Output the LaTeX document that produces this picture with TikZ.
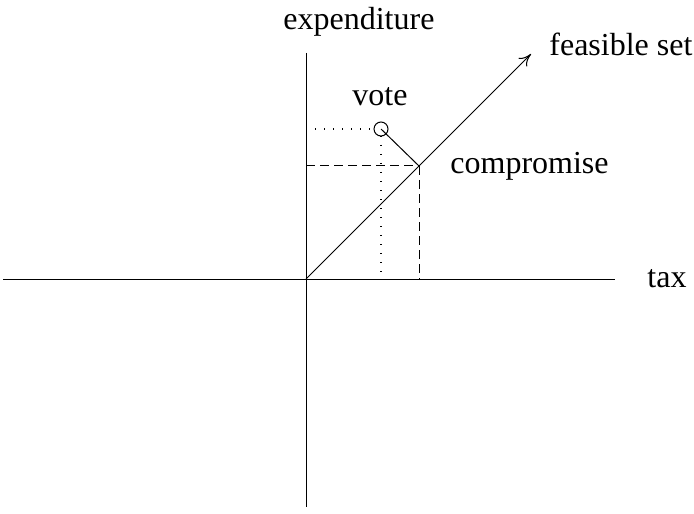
\documentclass[tikz,border=0pt]{standalone}
\usepackage{fontspec}
\setmainfont{Liberation Serif}
\usetikzlibrary{arrows.meta}
\begin{document}
\begin{tikzpicture}[x=0.5pt,y=-0.5pt,
  ln/.style={line width=0.5pt},
  dotl/.style={line width=0.6pt, dash pattern=on 0.6pt off 3.9pt},
  dashl/.style={line width=0.5pt, dash pattern=on 4.5pt off 2.5pt},
  lbl/.style={font=\fontsize{16}{19}\selectfont, inner sep=0pt, anchor=base west}]
\useasboundingbox (0,0) rectangle (694,513);
\coordinate (O) at (306,279);
\coordinate (xl) at (3,279);
\coordinate (xr) at (615,279);
\coordinate (yt) at (306,53);
\coordinate (yb) at (306,507);
\coordinate (tip) at (531,54);
\coordinate (C) at (419,166);
\coordinate (V) at (381,129);
\coordinate (Vx) at (306,129);
\coordinate (Vb) at (381,279);
\coordinate (Cy) at (306,166);
\coordinate (Cb) at (419,279);
\draw[ln] (xl) -- (xr);
\draw[ln] (yt) -- (yb);
\draw[ln, -{To[length=6pt,width=6pt]}] (O) -- (tip);
\draw[dotl] (Vx) -- (374,129);
\draw[dotl] (381,136) -- (Vb);
\draw[dashl] (Cy) -- (C);
\draw[dashl] (C) -- (Cb);
\node[ln, draw, circle, minimum size=7pt, inner sep=0pt] (vc) at (V) {};
\draw[ln] (V) -- (C);
\node[lbl] (exp) at (283,30) {expenditure};
\node[lbl] (vote) at (352,106) {vote};
\node[lbl] (comp) at (450,173) {compromise};
\node[lbl] (feas) at (549,56) {feasible set};
\node[lbl] (tax) at (647,287) {tax};
\end{tikzpicture}
\end{document}
